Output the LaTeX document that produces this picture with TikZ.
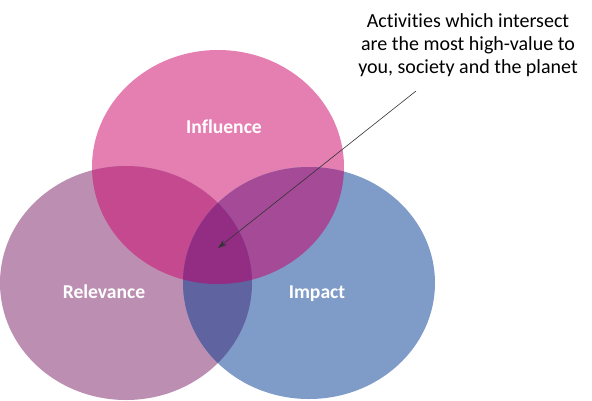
\documentclass[tikz,border=0pt]{standalone}
\usepackage{fontspec}
\setmainfont{Carlito}[Ligatures={NoCommon}]
\usetikzlibrary{arrows.meta}
\definecolor{infc}{RGB}{229,126,177}
\definecolor{relc}{RGB}{188,143,178}
\definecolor{impc}{RGB}{127,155,199}
\definecolor{infrel}{RGB}{197,73,142}
\definecolor{infimp}{RGB}{164,74,151}
\definecolor{relimp}{RGB}{95,99,160}
\definecolor{allc}{RGB}{147,45,132}
\tikzset{
  lbl/.style={text=white, font=\fontsize{19.6}{23}\selectfont\bfseries, inner sep=0pt, anchor=base},
  note/.style={text=black, font=\fontsize{20}{23.5}\selectfont, inner sep=0pt, anchor=base},
  pointer/.style={draw=black!80, line width=0.6pt, -{Stealth[length=9pt,width=6pt]}}
}
\begin{document}
\begin{tikzpicture}[x=1pt,y=-1pt]
\useasboundingbox (0,0) rectangle (592,400);
\def\infE{(218,167) ellipse [x radius=126pt, y radius=117pt]}
\def\relE{(126,283) ellipse [x radius=126pt, y radius=117pt]}
\def\impE{(309,283) ellipse [x radius=126pt, y radius=116pt]}
\fill[infc] \infE;
\fill[relc] \relE;
\fill[impc] \impE;
\begin{scope}\clip \infE; \fill[infrel] \relE; \fill[infimp] \impE;\end{scope}
\begin{scope}\clip \relE; \fill[relimp] \impE;\end{scope}
\begin{scope}\clip \infE; \clip \relE; \fill[allc] \impE;\end{scope}
\node[lbl] (influence) at (224,133) {Influence};
\node[lbl] (relevance) at (104,298) {Relevance};
\node[lbl] (impact) at (317,298) {Impact};
\node[note] (t1) at (468,27) {Activities which intersect};
\node[note] (t2) at (468,50) {are the most high-value to};
\node[note] (t3) at (468,73) {you, society and the planet};
\coordinate (from) at (416,91);
\coordinate (centre) at (218,248);
\draw[pointer] (from) -- (centre);
\end{tikzpicture}
\end{document}
